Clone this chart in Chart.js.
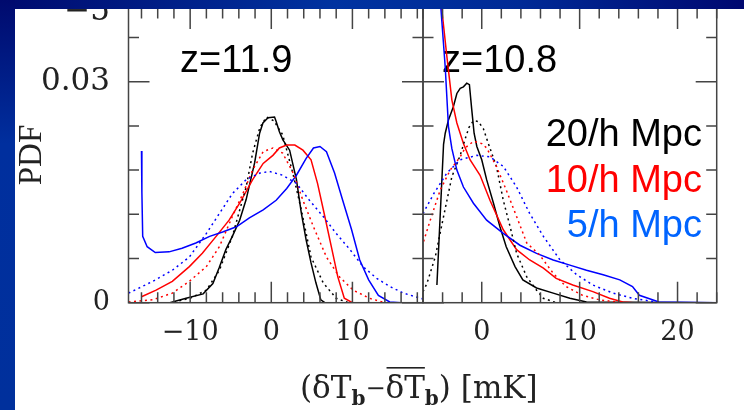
<!DOCTYPE html>
<html lang="en">
<head>
<meta charset="UTF-8">
<title>PDF of brightness temperature fluctuations</title>
<script src="https://cdn.jsdelivr.net/npm/chart.js"></script>
<style>
    body { margin: 0; width: 744px; height: 410px; overflow: hidden; background: #fff; position: relative; }
    canvas { position: absolute; left: 0; top: 0; }
    #topbar { position: absolute; left: 0; top: 0; width: 744px; height: 9px; z-index: 5;
              background: linear-gradient(to right, #000a6e, #0033a0 45%, #002a96 70%, #000870); }
    #leftbar { position: absolute; left: 0; top: 0; width: 15px; height: 410px; z-index: 5;
               background: linear-gradient(#000a6e, #002f9e 35%, #00309c); }
</style>
</head>
<body>
<div id="topbar"></div>
<div id="leftbar"></div>
<canvas id="left" width="744" height="410"></canvas>
<canvas id="right" width="744" height="410"></canvas>

<script>
// ---- axes ----
const yTicks = [0, 0.006, 0.012, 0.018, 0.024, 0.03, 0.036];
const yLabels = [0, 0.03];
const leftXTicks = [-16, -14, -12, -10, -8, -6, -4, -2, 0, 2, 4, 6, 8, 10, 12, 14, 16, 18];
const rightXTicks = [-6, -4, -2, 0, 2, 4, 6, 8, 10, 12, 14, 16, 18, 20, 22, 24];
const xLabels = [-10, 0, 10, 20];

// ---- z = 11.9 (left panel) ----
const l20x = [-12.5, -10.5, -8.4, -7.2, -6.4, -5.6, -4.8, -3.9, -3.1, -2.05, -1.44, -1.03, -0.4, 0.4, 0.6, 1.0, 1.43, 2.26, 3.1, 3.7, 4.3, 4.9, 5.5, 6.1, 6.6, 18.7];
const l20y = [0, 0.0006, 0.0012, 0.0026, 0.0048, 0.0072, 0.009, 0.0112, 0.014, 0.019, 0.023, 0.0244, 0.0251, 0.0252, 0.0246, 0.0232, 0.0221, 0.0207, 0.0167, 0.0122, 0.0085, 0.0054, 0.0027, 0.0004, 0, 0];
const l20gx = [-12, -10, -8.0, -6.4, -4.8, -3.1, -2.3, -1.4, -0.6, 0.3, 1.4, 2.65, 3.7, 4.9, 6.4, 8.0, 9.5];
const l20gy = [0.0001, 0.0006, 0.0017, 0.0044, 0.009, 0.0157, 0.0203, 0.0238, 0.0252, 0.0247, 0.0228, 0.0176, 0.0126, 0.0062, 0.0027, 0.0006, 0];
const l10x = [-16.0, -14.2, -12.2, -10.1, -8.5, -6.8, -5.2, -3.9, -2.3, -1.0, 0.2, 1.0, 1.9, 2.9, 3.9, 4.9, 5.7, 6.6, 7.4, 8.2, 9.0, 10.0, 18.7];
const l10y = [0.0008, 0.0017, 0.0029, 0.0049, 0.0067, 0.009, 0.0112, 0.0135, 0.0167, 0.0189, 0.0200, 0.0210, 0.0214, 0.0214, 0.0207, 0.0194, 0.0162, 0.0117, 0.0076, 0.0035, 0.0006, 0, 0];
const l10gx = [-17.6, -14.6, -12.2, -10.1, -8.0, -6.4, -4.8, -3.5, -2.3, -1.0, 0.2, 1.4, 2.7, 3.9, 5.2, 6.8, 8.4, 10.1, 12.1, 13.7];
const l10gy = [0.0001, 0.0004, 0.0013, 0.0029, 0.0049, 0.0076, 0.0117, 0.0148, 0.018, 0.0205, 0.021, 0.0203, 0.0176, 0.0139, 0.0103, 0.0062, 0.0035, 0.0017, 0.0006, 0.0001];
const l5x = [-16.0, -15.95, -15.85, -15.3, -14.3, -12.6, -11.0, -9.3, -7.6, -6.0, -4.3, -2.7, -1.0, 0.6, 1.9, 3.1, 4.3, 5.2, 6.0, 6.8, 7.8, 8.8, 9.9, 10.9, 12.0, 13.2, 14.6, 16.0, 18.7];
const l5y = [0.0206, 0.015, 0.009, 0.0076, 0.0068, 0.0069, 0.0074, 0.0081, 0.009, 0.0096, 0.0103, 0.0115, 0.0126, 0.0139, 0.0155, 0.0173, 0.0196, 0.021, 0.0212, 0.0205, 0.0176, 0.0139, 0.0099, 0.0058, 0.0031, 0.001, 0.0001, 0, 0];
const l5gx = [-17.6, -14.6, -12.2, -10.1, -8.0, -6.4, -4.8, -3.1, -1.4, -0.2, 1.4, 3.1, 4.7, 6.4, 8.0, 9.7, 11.3, 13.0, 14.6, 16.3, 18.7];
const l5gy = [0.0013, 0.0029, 0.0044, 0.0062, 0.0094, 0.0121, 0.0148, 0.0167, 0.0176, 0.0178, 0.0173, 0.0162, 0.0139, 0.0117, 0.0094, 0.0072, 0.0049, 0.0033, 0.0022, 0.0013, 0.0005];

// ---- z = 10.8 (right panel) ----
const r20x = [-4.58, -3.9, -3.73, -3.4, -2.9, -2.54, -2.2, -1.87, -1.53, -1.26, -1.02, -0.78, -0.5, 0.0, 0.5, 1.2, 1.86, 2.5, 3.4, 4.2, 5.6, 7.3, 9.0, 10.7, 24];
const r20y = [0.0024, 0.0215, 0.023, 0.0248, 0.0266, 0.0284, 0.0291, 0.0293, 0.0298, 0.0296, 0.0262, 0.023, 0.0212, 0.0194, 0.0167, 0.0135, 0.0103, 0.0076, 0.0049, 0.0031, 0.002, 0.0013, 0.0006, 0.0001, 0];
const r20gx = [-6.0, -5.6, -4.75, -3.9, -3.05, -2.2, -1.7, -1.3, -0.85, -0.35, 0.17, 0.7, 1.5, 2.2, 2.9, 3.56, 4.6, 5.6, 6.3, 7.6];
const r20gy = [0.0015, 0.0026, 0.0062, 0.0117, 0.0171, 0.0200, 0.0222, 0.0238, 0.0247, 0.0246, 0.0236, 0.0215, 0.0185, 0.0139, 0.0103, 0.0067, 0.0035, 0.0017, 0.0006, 0];
const r10x = [-4.25, -4.07, -3.56, -3.05, -2.54, -1.87, -1.2, -0.17, 0.84, 2.2, 3.56, 4.9, 6.3, 7.6, 9.3, 11.35, 13.05, 14.4, 15.5, 24];
const r10y = [0.042, 0.0397, 0.0334, 0.0275, 0.0244, 0.0216, 0.0194, 0.0173, 0.0139, 0.0099, 0.0072, 0.0058, 0.0047, 0.0033, 0.0024, 0.0015, 0.0006, 0.0001, 0, 0];
const r10gx = [-5.94, -5.26, -4.24, -3.22, -2.2, -1.7, -0.85, 0.0, 0.5, 1.5, 2.5, 3.56, 4.6, 5.9, 7.3, 8.6, 10.3, 12.0, 13.7];
const r10gy = [0.0083, 0.0112, 0.0153, 0.018, 0.0198, 0.0210, 0.0219, 0.0216, 0.021, 0.0185, 0.0153, 0.0117, 0.0081, 0.0065, 0.004, 0.0022, 0.001, 0.0004, 0.0001];
const r5x = [-4.3, -4.17, -3.73, -3.4, -3.05, -2.54, -1.87, -0.85, 0.5, 2.2, 3.9, 5.6, 7.3, 9.0, 10.7, 12.4, 14.1, 15.4, 16.1, 18.1, 24];
const r5y = [0.042, 0.0399, 0.032, 0.0239, 0.0209, 0.018, 0.0157, 0.0135, 0.0112, 0.0094, 0.0078, 0.0067, 0.0058, 0.0051, 0.0044, 0.0038, 0.0031, 0.0022, 0.001, 0.0001, 0];
const r5gx = [-6.0, -4.9, -3.56, -2.2, -0.5, 0.84, 2.2, 3.56, 4.9, 6.3, 8.0, 9.7, 11.35, 13.4, 15.4, 17.8];
const r5gy = [0.0121, 0.0148, 0.0176, 0.0194, 0.02, 0.0198, 0.0185, 0.0157, 0.0121, 0.009, 0.0058, 0.0038, 0.0024, 0.0013, 0.0006, 0.0001];

const BLACK = '#000000', RED = '#ff0000', BLUE = '#0000ff';
const pts = (xs, ys) => xs.map((x, i) => ({x: x, y: ys[i]}));
const line = (xs, ys, color, dotted) => ({
    data: pts(xs, ys), borderColor: color, borderWidth: 1.5,
    borderDash: dotted ? [2, 3.5] : [], pointRadius: 0, tension: 0, fill: false
});
const fmt = v => String(v).replace('-', '\u2212');

// frame + inward tick marks on all four sides
const frame = {
    id: 'frame',
    afterDatasetsDraw(chart) {
        const {ctx, chartArea: a, scales: {x, y}} = chart;
        ctx.save();
        ctx.strokeStyle = '#444';
        ctx.lineWidth = 1.5;
        ctx.strokeRect(a.left, a.top, a.right - a.left, a.bottom - a.top);
        ctx.beginPath();
        x.ticks.forEach(t => {
            const p = x.getPixelForValue(t.value);
            const len = t.value % 10 === 0 ? 21 : 10.5;
            ctx.moveTo(p, a.bottom); ctx.lineTo(p, a.bottom - len);
            ctx.moveTo(p, a.top); ctx.lineTo(p, a.top + len);
        });
        y.ticks.forEach(t => {
            const p = y.getPixelForValue(t.value);
            const len = yLabels.includes(t.value) ? 21 : 10.5;
            ctx.moveTo(a.left, p); ctx.lineTo(a.left + len, p);
            ctx.moveTo(a.right, p); ctx.lineTo(a.right - len, p);
        });
        ctx.stroke();
        ctx.restore();
    }
};

const texts = {
    id: 'texts',
    beforeDatasetsDraw(chart, args, opts) {
        const ctx = chart.ctx;
        ctx.save();
        ctx.fillStyle = '#000';
        ctx.font = '38px "Liberation Sans"';
        ctx.textAlign = 'left';
        ctx.textBaseline = 'alphabetic';
        ctx.fillText(opts.z, opts.zx, 72);
        if (opts.legend) {
            ctx.textAlign = 'right';
            [['20/h Mpc', '#000000', 146], ['10/h Mpc', '#ff0000', 191.5], ['5/h Mpc', '#0064ff', 237]]
                .forEach(([s, c, b]) => { ctx.fillStyle = c; ctx.fillText(s, 702, b); });
        }
        ctx.restore();
    },
    afterDraw(chart, args, opts) {
        if (!opts.title) return;
        const ctx = chart.ctx;
        ctx.save();
        ctx.fillStyle = '#222';
        ctx.textBaseline = 'alphabetic';
        // cut-off label at the top
        ctx.font = '31px "DejaVu Serif"';
        ctx.textAlign = 'right';
        ctx.fillText('\u22125', 110, 20);
        // y title
        ctx.save();
        ctx.translate(40.5, 155);
        ctx.rotate(-Math.PI / 2);
        ctx.textAlign = 'center';
        ctx.font = '33px "Liberation Serif"';
        ctx.fillText('PDF', 0, 0);
        ctx.restore();
        // x title: (δT_b − overline(δT)_b) [mK]
        ctx.textAlign = 'left';
        let x = 300;
        const base = 398;
        const main = '31px "DejaVu Serif"', sub = 'bold 20px "DejaVu Serif"';
        const put = (s, f, dy) => { ctx.font = f; ctx.fillText(s, x, base + dy); x += ctx.measureText(s).width; };
        put('(\u03b4T', main, 0);
        put('b', sub, 7);
        put('\u2212', '24px "DejaVu Serif"', -2);
        const x0 = x;
        put('\u03b4T', main, 0);
        ctx.fillRect(x0 + 1, base - 31, x - x0 - 1, 1.6);
        put('b', sub, 7);
        put(') [mK]', main, 0);
        ctx.restore();
    }
};

function makeChart(id, xs, min, max, datasets, isLeft) {
    return new Chart(document.getElementById(id), {
        type: 'scatter',
        data: {datasets: datasets},
        options: {
            responsive: false,
            animation: false,
            showLine: true,
            layout: {
                autoPadding: false,
                padding: isLeft ? {left: 0, right: 321, top: 8, bottom: 0} : {left: 423, right: 27.3, top: 8, bottom: 0}
            },
            plugins: {
                legend: {display: false},
                title: {display: false},
                tooltip: {enabled: false},
                texts: isLeft ? {z: 'z=11.9', zx: 180, title: true} : {z: 'z=10.8', zx: 442, legend: true}
            },
            scales: {
                x: {
                    type: 'linear', min: min, max: max,
                    afterBuildTicks: s => { s.ticks = xs.map(v => ({value: v})); },
                    afterFit: s => { s.height = 107.3; s.paddingLeft = 0; s.paddingRight = 0; s.paddingTop = 0; s.paddingBottom = 0; },
                    grid: {display: false, drawTicks: false},
                    border: {display: false},
                    ticks: {
                        autoSkip: false, maxRotation: 0, padding: 14, color: '#222',
                        font: {family: 'DejaVu Serif', size: 27},
                        callback: v => xLabels.includes(v) ? fmt(v) : ''
                    }
                },
                y: {
                    type: 'linear', min: 0, max: 0.04,
                    display: isLeft,
                    afterBuildTicks: s => { s.ticks = yTicks.map(v => ({value: v})); },
                    afterFit: s => { s.width = isLeft ? 128.5 : 0; s.paddingTop = 0; s.paddingBottom = 0; s.paddingLeft = 0; s.paddingRight = 0; },
                    grid: {display: false, drawTicks: false},
                    border: {display: false},
                    ticks: {
                        padding: 18.5, color: '#222',
                        font: c => ({family: 'DejaVu Serif', size: c.tick && c.tick.value === 0.03 ? 31 : 27}),
                        callback: v => yLabels.includes(v) ? String(v) : ''
                    }
                }
            }
        },
        plugins: [frame, texts]
    });
}

makeChart('left', leftXTicks, -17.6, 18.7, [
    line(l5gx, l5gy, BLUE, true),
    line(l10gx, l10gy, RED, true),
    line(l20gx, l20gy, BLACK, true),
    line(l5x, l5y, BLUE, false),
    line(l10x, l10y, RED, false),
    line(l20x, l20y, BLACK, false)
], true);

makeChart('right', rightXTicks, -6, 24, [
    line(r5gx, r5gy, BLUE, true),
    line(r10gx, r10gy, RED, true),
    line(r20gx, r20gy, BLACK, true),
    line(r5x, r5y, BLUE, false),
    line(r10x, r10y, RED, false),
    line(r20x, r20y, BLACK, false)
], false);
</script>
</body>
</html>
